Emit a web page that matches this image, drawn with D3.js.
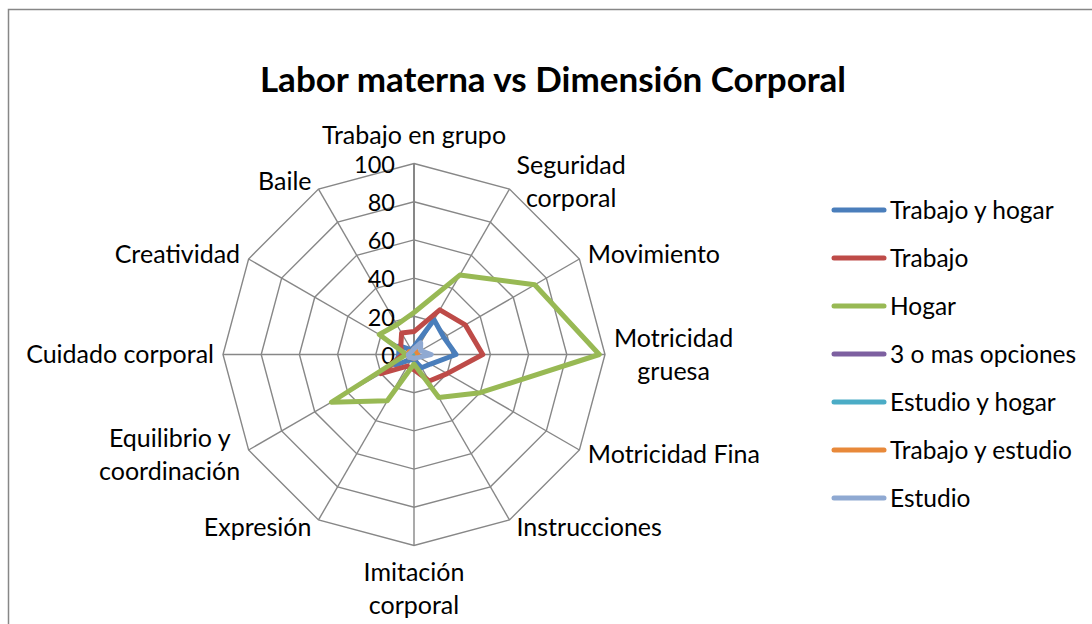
<!DOCTYPE html>
<html>
<head>
<meta charset="utf-8">
<script src="https://cdn.jsdelivr.net/npm/d3@7"></script>
<style>
  html, body { margin: 0; padding: 0; background: #fff; }
  svg { display: block; }
  text { font-family: Lato, "Open Sans", sans-serif; fill: #000; }
</style>
</head>
<body>
<svg id="chart" width="1092" height="624"></svg>
<script>
// Dimensions of the radar (one label per spoke, clockwise from the top)
const categories = [
  "Trabajo en grupo", "Seguridad corporal", "Movimiento", "Motricidad gruesa",
  "Motricidad Fina", "Instrucciones", "Imitación corporal", "Expresión",
  "Equilibrio y coordinación", "Cuidado corporal", "Creatividad", "Baile"
];
// How each label is broken into lines
const categoryLines = [
  ["Trabajo en grupo"], ["Seguridad", "corporal"], ["Movimiento"], ["Motricidad", "gruesa"],
  ["Motricidad Fina"], ["Instrucciones"], ["Imitación", "corporal"], ["Expresión"],
  ["Equilibrio y", "coordinación"], ["Cuidado corporal"], ["Creatividad"], ["Baile"]
];

const seriesNames = [
  "Trabajo y hogar", "Trabajo", "Hogar", "3 o mas opciones",
  "Estudio y hogar", "Trabajo y estudio", "Estudio"
];
const trabajoYHogar    = [4, 21, 18, 22, 10, 8, 3, 3, 11, 8, 9, 3];
const trabajo          = [12, 27, 31, 36, 20, 16, 8, 7, 20, 6, 8, 13];
const hogar            = [22, 48, 73, 97, 40, 26, 5, 28, 50, 4, 21, 18];
const tresOMas         = [1, 1, 1, 2, 1, 1, 1, 1, 1, 1, 1, 1];
const estudioYHogar    = [1, 1, 1, 1, 1, 1, 1, 1, 2, 2, 1, 1];
const trabajoYEstudio  = [3, 2, 2, 2, 2, 2, 2, 2, 3, 3, 3, 2];
const estudio          = [3, 7, 4, 9, 3, 2, 2, 2, 3, 3, 2, 2];

const seriesValues = [trabajoYHogar, trabajo, hogar, tresOMas, estudioYHogar, trabajoYEstudio, estudio];
const seriesColors = ["#4A7EBB", "#BE4B48", "#98B954", "#7D60A0", "#4BACC6", "#E8893A", "#8FA9D2"];

const tickValues = [0, 20, 40, 60, 80, 100];
const chartTitle = "Labor materna vs Dimensión Corporal";

const svg = d3.select("#chart");
const cx = 414, cy = 354.5, R = 191;

const r = d3.scaleLinear().domain([0, 100]).range([0, R]);
const angle = d3.scaleLinear().domain([0, categories.length]).range([0, 2 * Math.PI]);
const pt = (i, v) => [cx + r(v) * Math.sin(angle(i)), cy - r(v) * Math.cos(angle(i))];

// Outer frame
svg.append("rect")
  .attr("x", 8.5).attr("y", 9.5).attr("width", 1200).attr("height", 800)
  .attr("fill", "none").attr("stroke", "#878787").attr("stroke-width", 1.5);

// Title
svg.append("text")
  .attr("x", 553).attr("y", 80).attr("dy", "0.35em")
  .attr("text-anchor", "middle")
  .style("font-size", "35px").style("font-weight", "bold")
  .text(chartTitle);

const g = svg.append("g");

// Rings (polygonal gridlines)
const idx = d3.range(categories.length);
g.selectAll("path.ring").data(tickValues.filter(t => t > 0)).join("path")
  .attr("class", "ring")
  .attr("d", t => "M" + idx.map(i => pt(i, t).join(",")).join("L") + "Z")
  .attr("fill", "none").attr("stroke", "#878787").attr("stroke-width", 1.4);

// Spokes
g.selectAll("line.spoke").data(idx).join("line")
  .attr("class", "spoke")
  .attr("x1", cx).attr("y1", cy)
  .attr("x2", i => pt(i, 100)[0]).attr("y2", i => pt(i, 100)[1])
  .attr("stroke", "#878787").attr("stroke-width", i => i === 0 ? 2 : 1.4);

// Value axis labels
g.selectAll("text.tick").data(tickValues).join("text")
  .attr("class", "tick")
  .attr("x", cx - 19).attr("y", t => cy - r(t) + 1).attr("dy", "0.35em")
  .attr("text-anchor", "end")
  .style("font-size", "23.5px")
  .text(t => t);

// Series polygons
const radial = d3.lineRadial()
  .angle((d, i) => angle(i))
  .radius(d => r(d))
  .curve(d3.curveLinearClosed);

const sg = g.append("g").attr("transform", `translate(${cx},${cy})`);
sg.selectAll("path.series").data(seriesValues).join("path")
  .attr("class", "series")
  .attr("d", d => radial(d))
  .attr("fill", "none")
  .attr("stroke", (d, i) => seriesColors[i])
  .attr("stroke-width", 5)
  .attr("stroke-linejoin", "round");

// Category labels
const lineH = 33, fs = 25;
categoryLines.forEach((lines, i) => {
  const a = angle(i);
  const s = Math.sin(a), c = Math.cos(a);
  const [vx, vy] = pt(i, 100);
  const t = g.append("text").style("font-size", fs + "px");
  const tsp = lines.map(l => t.append("tspan").text(l));
  const widths = tsp.map(ts => ts.node().getComputedTextLength());
  const blockW = d3.max(widths);
  let left, top;
  const blockH = lines.length * lineH;
  if (Math.abs(s) < 1e-6) {
    left = vx - blockW / 2;
    top = c > 0 ? vy - 12 - blockH : vy + 10;
  } else {
    const gap = 5 + 4 * Math.abs(s);
    left = s > 0 ? vx + gap : vx - gap - blockW;
    top = vy - 9 * c - blockH / 2;
  }
  tsp.forEach((ts, k) => {
    ts.attr("x", left + (blockW - widths[k]) / 2)
      .attr("y", top + lineH * k + lineH / 2)
      .attr("dy", "0.35em");
  });
});

// Legend
const legend = svg.append("g");
seriesNames.forEach((name, i) => {
  const y = 210 + i * 48;
  legend.append("line")
    .attr("x1", 834).attr("x2", 884).attr("y1", y).attr("y2", y)
    .attr("stroke", seriesColors[i]).attr("stroke-width", 5).attr("stroke-linecap", "round");
  legend.append("text")
    .attr("x", 890).attr("y", y).attr("dy", "0.35em")
    .style("font-size", "24.5px")
    .text(name);
});
</script>
</body>
</html>
